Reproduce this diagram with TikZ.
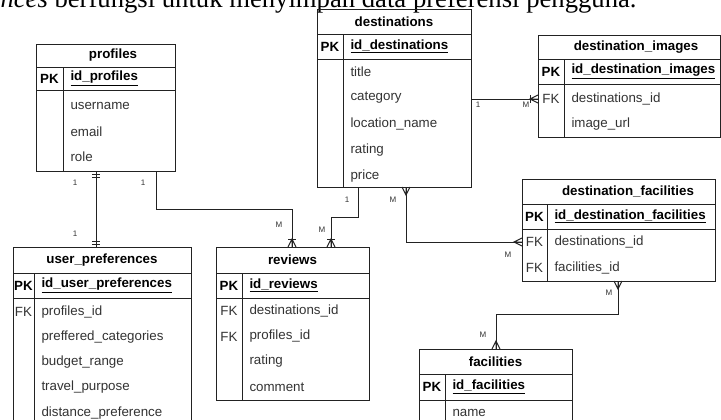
\documentclass[tikz,border=0pt]{standalone}
\usepackage{fontspec}
\setmainfont{Liberation Sans}
\newfontfamily\seriffont{Liberation Serif}
\usetikzlibrary{calc}
\definecolor{txt}{HTML}{333333}
\definecolor{ln}{HTML}{222222}

% #1 name, #2 L, #3 T, #4 R, #5 B, #6 header bottom, #7 PK bottom, #8 column divider, #9 title x
\newcommand\ertab[9]{%
  \node[tbl, minimum width={(#4-#2)*0.75pt}, minimum height={(#5-#3)*0.75pt}] (#1) at (#2,#3) {};
  \draw[ln] (#2,#6) -- (#4,#6) (#2,#7) -- (#4,#7) (#8,#6) -- (#8,#5);
  \coordinate (#1-tc) at (#9,{(#3+#6)/2});
}
\newcommand\forkdown[2]{\draw[ln] (#1-4,#2) -- (#1,#2+8) -- (#1+4,#2) (#1,#2) -- (#1,#2+8);}
\newcommand\forkup[2]{\draw[ln] (#1-4,#2) -- (#1,#2-8) -- (#1+4,#2) (#1,#2) -- (#1,#2-8);}
\newcommand\forkleft[2]{\draw[ln] (#1,#2-4) -- (#1-8,#2) -- (#1,#2+4) (#1,#2) -- (#1-8,#2);}
\newcommand\xbar[2]{\draw[ln] (#1-4,#2) -- (#1+4,#2);}

\begin{document}
\begin{tikzpicture}[x=0.75pt,y=-0.75pt,line width=0.75pt,
  tbl/.style={draw=ln, anchor=north west, inner sep=0pt},
  ttl/.style={font=\fontsize{10}{12}\selectfont\bfseries, text=black, inner sep=0pt},
  pk/.style={font=\fontsize{10}{12}\selectfont\bfseries, text=black, inner sep=0pt},
  fk/.style={font=\fontsize{10}{12}\selectfont, text=txt, inner sep=0pt},
  fld/.style={font=\fontsize{10}{12}\selectfont, text=txt, anchor=west, inner sep=0pt},
  idf/.style={font=\fontsize{10}{12}\selectfont\bfseries, text=black, anchor=west, inner sep=0pt},
  lbl/.style={font=\fontsize{6}{7}\selectfont, text=txt, inner sep=0pt},
  conn/.style={draw=ln, line width=0.75pt}]
\useasboundingbox (0,0) rectangle (721,419);
\clip (0,0) rectangle (721,419);
\fill[white] (0,0) rectangle (721,419);

\node[anchor=base west, inner sep=0pt, font=\seriffont\fontsize{20}{22}\selectfont] (intro) at (0,7)
  {\textit{nces} berfungsi untuk menyimpan data preferensi pengguna.};

% profiles
\ertab{profiles}{36}{44}{175}{171}{67}{90}{63}{113}
\node[ttl] (profiles-t) at (profiles-tc) {profiles};
\node[pk] (profiles-pk) at (49.5,78.5) {PK};
\node[idf] (profiles-id) at (70,78.5) {\underline{id\_profiles}};
\node[fld] (profiles-f1) at (70,106) {username};
\node[fld] (profiles-f2) at (70,131.5) {email};
\node[fld] (profiles-f3) at (70,157) {role};

% destinations
\ertab{destinations}{317}{9}{471}{187}{34}{59}{343}{394}
\node[ttl] (destinations-t) at (destinations-tc) {destinations};
\node[pk] (destinations-pk) at (330,46.5) {PK};
\node[idf] (destinations-id) at (350,46.5) {\underline{id\_destinations}};
\node[fld] (destinations-f1) at (350,72) {title};
\node[fld] (destinations-f2) at (350,98) {category};
\node[fld] (destinations-f3) at (350,124) {location\_name};
\node[fld] (destinations-f4) at (350,150) {rating};
\node[fld] (destinations-f5) at (350,176) {price};

% destination_images
\ertab{dimages}{538}{35}{720}{137}{59}{84}{564}{636}
\node[ttl] (dimages-t) at (dimages-tc) {destination\_images};
\node[pk] (dimages-pk) at (551,71.5) {PK};
\node[idf] (dimages-id) at (571,71.5) {\underline{id\_destination\_images}};
\node[fk] (dimages-fk) at (551,99) {FK};
\node[fld] (dimages-f1) at (571,99) {destinations\_id};
\node[fld] (dimages-f2) at (571,124) {image\_url};

% destination_facilities
\ertab{dfac}{522}{179}{715}{281}{204}{229}{547}{628}
\node[ttl] (dfac-t) at (dfac-tc) {destination\_facilities};
\node[pk] (dfac-pk) at (534.5,216.5) {PK};
\node[idf] (dfac-id) at (554,216.5) {\underline{id\_destination\_facilities}};
\node[fk] (dfac-fk1) at (534.5,242) {FK};
\node[fld] (dfac-f1) at (554,242) {destinations\_id};
\node[fk] (dfac-fk2) at (534.5,268) {FK};
\node[fld] (dfac-f2) at (554,268) {facilities\_id};

% facilities
\ertab{facilities}{419}{349}{572}{440}{374}{400}{445}{495.5}
\node[ttl] (facilities-t) at (facilities-tc) {facilities};
\node[pk] (facilities-pk) at (432,387) {PK};
\node[idf] (facilities-id) at (452,387) {\underline{id\_facilities}};
\node[fld] (facilities-f1) at (452,413) {name};

% user_preferences
\ertab{upref}{13}{247}{191}{440}{273}{298}{34}{102}
\node[ttl] (upref-t) at (upref-tc) {user\_preferences};
\node[pk] (upref-pk) at (23.5,285.5) {PK};
\node[idf] (upref-id) at (41,285.5) {\underline{id\_user\_preferences}};
\node[fk] (upref-fk) at (23.5,312) {FK};
\node[fld] (upref-f1) at (41,312) {profiles\_id};
\node[fld] (upref-f2) at (41,337) {preffered\_categories};
\node[fld] (upref-f3) at (41,362) {budget\_range};
\node[fld] (upref-f4) at (41,387) {travel\_purpose};
\node[fld] (upref-f5) at (41,413) {distance\_preference};

% reviews
\ertab{reviews}{216}{247}{369}{400}{273}{298}{242}{292.5}
\node[ttl] (reviews-t) at (reviews-tc) {reviews};
\node[pk] (reviews-pk) at (229,285.5) {PK};
\node[idf] (reviews-id) at (249,285.5) {\underline{id\_reviews}};
\node[fk] (reviews-fk1) at (229,311) {FK};
\node[fld] (reviews-f1) at (249,311) {destinations\_id};
\node[fk] (reviews-fk2) at (229,336.5) {FK};
\node[fld] (reviews-f2) at (249,336.5) {profiles\_id};
\node[fld] (reviews-f3) at (249,361.5) {rating};
\node[fld] (reviews-f4) at (249,387) {comment};

% connectors
% profiles -> user_preferences (1:1)
\draw[conn] ($(profiles.south west)+(60,0)$) -- ($(upref.north west)+(83,0)$);
\xbar{96}{174} \xbar{96}{177}
\xbar{96}{241} \xbar{96}{244}
\node[lbl] (l1) at (75,183) {1};
\node[lbl] (l2) at (75,234) {1};

% profiles -> reviews
\draw[conn] ($(profiles.south west)+(120,0)$) |- (292,209) -- ($(reviews.north west)+(76,0)$);
\forkup{292}{247} \xbar{292}{239}
\node[lbl] (l3) at (143,183) {1};
\node[lbl] (l4) at (279,225) {M};

% destinations -> reviews
\draw[conn] ($(destinations.south west)+(41,0)$) |- (331,217) -- ($(reviews.north west)+(115,0)$);
\forkup{331}{247} \xbar{331}{239}
\node[lbl] (l5) at (347,200) {1};
\node[lbl] (l6) at (322,230) {M};

% destinations -> destination_images
\draw[conn] ($(destinations.north east)+(0,90)$) -- ($(dimages.north west)+(0,64)$);
\forkleft{538}{99} \draw[ln] (530,95) -- (530,103);
\node[lbl] (l7) at (478,105) {1};
\node[lbl] (l8) at (526,105) {M};

% destinations -> destination_facilities
\draw[conn] ($(destinations.south west)+(89,0)$) |- ($(dfac.north west)+(0,63)$);
\forkdown{406}{187}
\forkleft{522}{242}
\node[lbl] (l9) at (393,200) {M};
\node[lbl] (l10) at (508,255) {M};

% destination_facilities -> facilities
\draw[conn] ($(dfac.south west)+(96,0)$) -- (618,314) -| ($(facilities.north west)+(77,0)$);
\forkdown{618}{281}
\forkup{496}{349}
\node[lbl] (l11) at (609,293) {M};
\node[lbl] (l12) at (483,335) {M};
\end{tikzpicture}
\end{document}
